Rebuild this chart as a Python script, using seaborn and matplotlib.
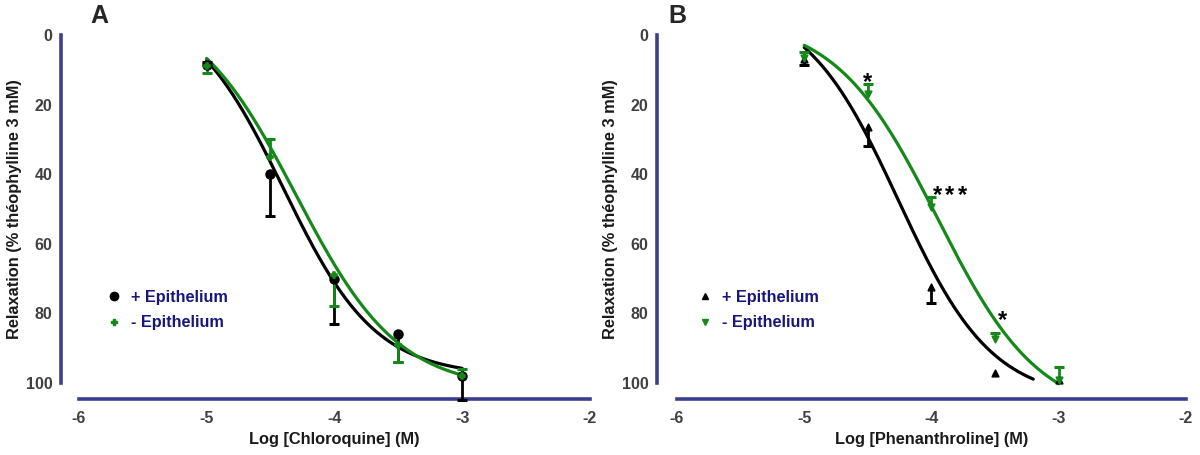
import numpy as np
import pandas as pd
import matplotlib
matplotlib.use('Agg')
import matplotlib.pyplot as plt
from matplotlib.lines import Line2D
import seaborn as sns

# Log concentrations (M)
log_conc = [-5, -4.5, -4, -3.5, -3]

# Panel A - chloroquine
chloro_epi_mean = [8.5, 40, 70, 86, 98]
chloro_epi_err_lo = [0.8, 0, 0, 0, 0]
chloro_epi_err_hi = [0, 12, 13, 8, 7]
chloro_noepi_mean = [9, 35, 69, 89, 98]
chloro_noepi_err_lo = [0, 5, 0, 0, 2]
chloro_noepi_err_hi = [2, 0, 9, 5, 0]

# Panel B - phenanthroline
phen_epi_mean = [7, 26.5, 72.5, 97, 99]
phen_epi_err_lo = [0, 0, 0, 0, 0]
phen_epi_err_hi = [1.5, 5.5, 4.5, 0, 0]
phen_noepi_mean = [6.5, 17, 49.5, 87.5, 99]
phen_noepi_err_lo = [1.5, 3, 3, 1.8, 3.5]
phen_noepi_err_hi = [0, 0, 0, 0, 0]

# fitted 4-parameter logistic curves: bottom, top, logEC50, hill, x range
fit_chloro_epi = dict(bottom=-10, top=98, ec50=-4.40, hill=1.2, x0=-5, x1=-3)
fit_chloro_noepi = dict(bottom=-10, top=102, ec50=-4.30, hill=1.08, x0=-5, x1=-3)
fit_phen_epi = dict(bottom=-10, top=105, ec50=-4.26, hill=1.18, x0=-5, x1=-3.2)
fit_phen_noepi = dict(bottom=-5, top=110, ec50=-3.955, hill=1.08, x0=-5, x1=-3)

# significance marks for panel B (x, baseline y, text)
sig_x = [-4.5, -3.95, -3.855, -3.76, -3.44]
sig_y = [15.5, 48, 48, 48, 84]
sig_text = ['*', '*', '*', '*', '*']

x_label_a = 'Log [Chloroquine] (M)'
x_label_b = 'Log [Phenanthroline] (M)'
y_label = 'Relaxation (% théophylline 3 mM)'
legend_labels = ['+ Epithelium', '- Epithelium']

GREEN = '#14891a'
BLACK = '#000000'
SPINE = '#3c3f8c'
NAVY = '#17177c'

sns.set_style('white')
plt.rcParams['font.family'] = ['Liberation Sans', 'DejaVu Sans']
plt.rcParams['axes.unicode_minus'] = False


def logistic(p):
    xs = np.linspace(p['x0'], p['x1'], 200)
    ys = p['bottom'] + (p['top'] - p['bottom']) / (1 + 10 ** ((p['ec50'] - xs) * p['hill']))
    return pd.DataFrame({'x': xs, 'y': ys})


def one_sided(ax, mean, err, sign, color):
    x = np.array(log_conc)
    m = np.array(mean, dtype=float)
    e = np.array(err, dtype=float)
    keep = e > 0
    if not keep.any():
        return
    yerr = [e[keep], np.zeros(keep.sum())] if sign < 0 else [np.zeros(keep.sum()), e[keep]]
    ax.errorbar(x[keep], m[keep], yerr=yerr, fmt='none', ecolor=color,
                elinewidth=2, capsize=0, zorder=4, clip_on=False)
    ends = m[keep] + sign * e[keep]
    ax.plot(x[keep], ends, ls='none', marker='_', ms=7, mew=2.2, color=color,
            zorder=4, clip_on=False)


def draw_series(ax, mean, lo, hi, fit, color, marker, ms):
    curve = logistic(fit)
    sns.lineplot(data=curve, x='x', y='y', ax=ax, color=color, lw=2.3, zorder=3)
    one_sided(ax, mean, lo, -1, color)
    one_sided(ax, mean, hi, 1, color)
    df = pd.DataFrame({'x': log_conc, 'y': mean})
    sns.scatterplot(data=df, x='x', y='y', ax=ax, color=color, marker=marker,
                    s=ms, edgecolor=color, linewidth=1.2, zorder=5, clip_on=False)


def style_axes(ax, xlabel, xmin):
    ax.set_xlim(xmin, -2)
    ax.set_ylim(104.6, 0)
    ax.set_xticks([-6, -5, -4, -3, -2])
    ax.set_yticks([0, 20, 40, 60, 80, 100])
    for side in ['top', 'right']:
        ax.spines[side].set_visible(False)
    ax.spines['left'].set_bounds(0, 100)
    ax.spines['bottom'].set_bounds(-6, -2)
    for side in ['left', 'bottom']:
        ax.spines[side].set_color(SPINE)
        ax.spines[side].set_linewidth(2.6)
    ax.tick_params(axis='both', direction='out', length=3, width=2, color=SPINE,
                   labelsize=11.5, labelcolor='#404040')
    ax.tick_params(axis='x', pad=6)
    ax.tick_params(axis='y', pad=3)
    for lab in ax.get_xticklabels() + ax.get_yticklabels():
        lab.set_fontweight('bold')
    ax.set_xlabel(xlabel, fontsize=11.8, fontweight='bold', color='#1a1a1a')
    ax.set_ylabel(y_label, fontsize=11.8, fontweight='bold', color='#1a1a1a')
    # centre labels on the trimmed spines
    xc = (-4 - xmin) / (-2 - xmin)
    ax.xaxis.set_label_coords(xc, -0.092)
    ax.yaxis.set_label_coords(-0.074, 1 - 50 / 104.6)


fig = plt.figure(figsize=(12, 4.55), dpi=100)
ax_a = fig.add_axes([0.0508, 0.1231, 0.4408, 0.80])
ax_b = fig.add_axes([0.5475, 0.1231, 0.4408, 0.80])

# Panel A
draw_series(ax_a, chloro_epi_mean, chloro_epi_err_lo, chloro_epi_err_hi,
            fit_chloro_epi, BLACK, 'o', 40)
draw_series(ax_a, chloro_noepi_mean, chloro_noepi_err_lo, chloro_noepi_err_hi,
            fit_chloro_noepi, GREEN, 'P', 25)
style_axes(ax_a, x_label_a, -6.14)
handles_a = [Line2D([], [], ls='none', marker='o', color=BLACK, ms=6),
             Line2D([], [], ls='none', marker='P', color=GREEN, ms=5)]
ax_a.legend(handles_a, legend_labels, loc='center left', bbox_to_anchor=(0.07, 0.244),
            frameon=False, handlelength=1, handletextpad=0.55, labelspacing=0.62,
            borderpad=0, prop={'weight': 'bold', 'size': 11.7}, labelcolor=NAVY)

# Panel B
draw_series(ax_b, phen_epi_mean, phen_epi_err_lo, phen_epi_err_hi,
            fit_phen_epi, BLACK, '^', 22)
draw_series(ax_b, phen_noepi_mean, phen_noepi_err_lo, phen_noepi_err_hi,
            fit_phen_noepi, GREEN, 'v', 22)
style_axes(ax_b, x_label_b, -6.157)
for sx, sy, st in zip(sig_x, sig_y, sig_text):
    ax_b.text(sx, sy, st, fontsize=17, fontweight='bold', ha='center',
              va='baseline', color=BLACK)
handles_b = [Line2D([], [], ls='none', marker='^', color=BLACK, ms=5),
             Line2D([], [], ls='none', marker='v', color=GREEN, ms=5)]
ax_b.legend(handles_b, legend_labels, loc='center left', bbox_to_anchor=(0.06, 0.244),
            frameon=False, handlelength=1, handletextpad=0.55, labelspacing=0.62,
            borderpad=0, prop={'weight': 'bold', 'size': 11.7}, labelcolor=NAVY)

fig.text(99 / 1200, 1 - 16 / 455, 'A', fontsize=18, fontweight='bold',
         ha='center', va='center')
fig.text(677 / 1200, 1 - 16 / 455, 'B', fontsize=18, fontweight='bold',
         ha='center', va='center')

fig.savefig('out.png', dpi=100)
